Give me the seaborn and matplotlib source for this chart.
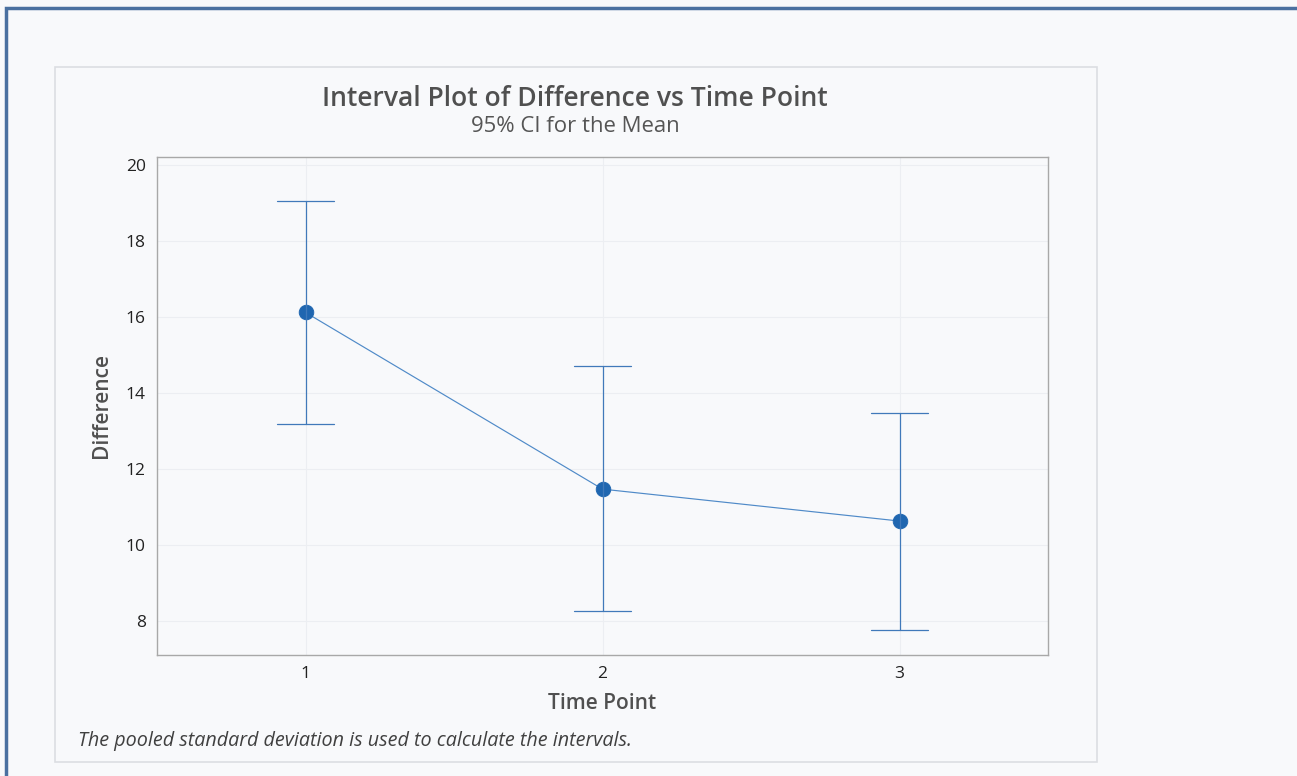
import matplotlib
matplotlib.use("Agg")
import matplotlib.pyplot as plt
import seaborn as sns
import pandas as pd
from matplotlib.patches import Rectangle

time_points = ["1", "2", "3"]
means = [16.12, 11.47, 10.63]
lower = [13.18, 8.26, 7.76]
upper = [19.05, 14.71, 13.47]
y_ticks = [8, 10, 12, 14, 16, 18, 20]

rows = []
for tp, lo, m, hi in zip(time_points, lower, means, upper):
    for v in (lo, m, hi):
        rows.append({"Time Point": tp, "Difference": v})
df = pd.DataFrame(rows)

sns.set_theme(style="white")
plt.rcParams['font.family'] = ['Open Sans', 'DejaVu Sans']

bg = "#F8F9FB"
fig = plt.figure(figsize=(12.97, 7.76), dpi=100, facecolor=bg)

# outer blue frame (top/left visible)
fig.patches.append(Rectangle((6/1297, -0.1), 1.2, (776-8)/776 + 0.1, transform=fig.transFigure,
                             fill=False, edgecolor="#4A70A0", linewidth=2.5, zorder=-20))
# inner panel
fig.patches.append(Rectangle((55/1297, (776-762)/776), 1042/1297, 695/776, transform=fig.transFigure,
                             facecolor=bg, edgecolor="#DCDEE2", linewidth=1.2, zorder=-10))

ax = fig.add_axes([157/1297, (776-655)/776, 891/1297, 498/776])
ax.set_facecolor(bg)
ax.set_zorder(5)

sns.pointplot(data=df, x="Time Point", y="Difference", estimator="median",
              errorbar=("pi", 100), capsize=0.19, color="#4F8AC8",
              markers="o", markersize=10.5, linewidth=0.85,
              err_kws={"linewidth": 0.9, "color": "#4079BA"}, ax=ax)
# recolor markers darker
for line in ax.lines:
    if line.get_marker() == "o":
        line.set_markerfacecolor("#1F66B0")
        line.set_markeredgecolor("#1F66B0")

ax.set_xlim(-0.5, 2.5)
ax.set_ylim(7.105, 20.21)
ax.set_yticks(y_ticks)
ax.set_yticklabels([str(t) for t in y_ticks])

ax.grid(True, color="#ECEEF2", linewidth=0.8)
ax.set_axisbelow(True)
for s in ax.spines.values():
    s.set_color("#A8A8A8")
    s.set_linewidth(1.0)
ax.tick_params(axis="both", direction="out", length=5, width=0.8, color="#A8A8A8",
               labelsize=12.5, labelcolor="#222222", pad=3)

ax.set_xlabel("Time Point", fontsize=15, color="#505050", fontweight="semibold", labelpad=8)
ax.set_ylabel("Difference", fontsize=15, color="#505050", fontweight="semibold", labelpad=10)

fig.text(575/1297, 1 - 99/776, "Interval Plot of Difference vs Time Point", ha="center", va="center",
         fontsize=19.1, color="#505050", fontweight="semibold")
fig.text(575/1297, 1 - 126/776, "95% CI for the Mean", ha="center", va="center",
         fontsize=15.9, color="#555555")
fig.text(78/1297, 1 - 741/776, "The pooled standard deviation is used to calculate the intervals.",
         ha="left", va="center", fontsize=14.2, color="#404040", style="italic")

fig.savefig("out.png", dpi=100, facecolor=bg)
